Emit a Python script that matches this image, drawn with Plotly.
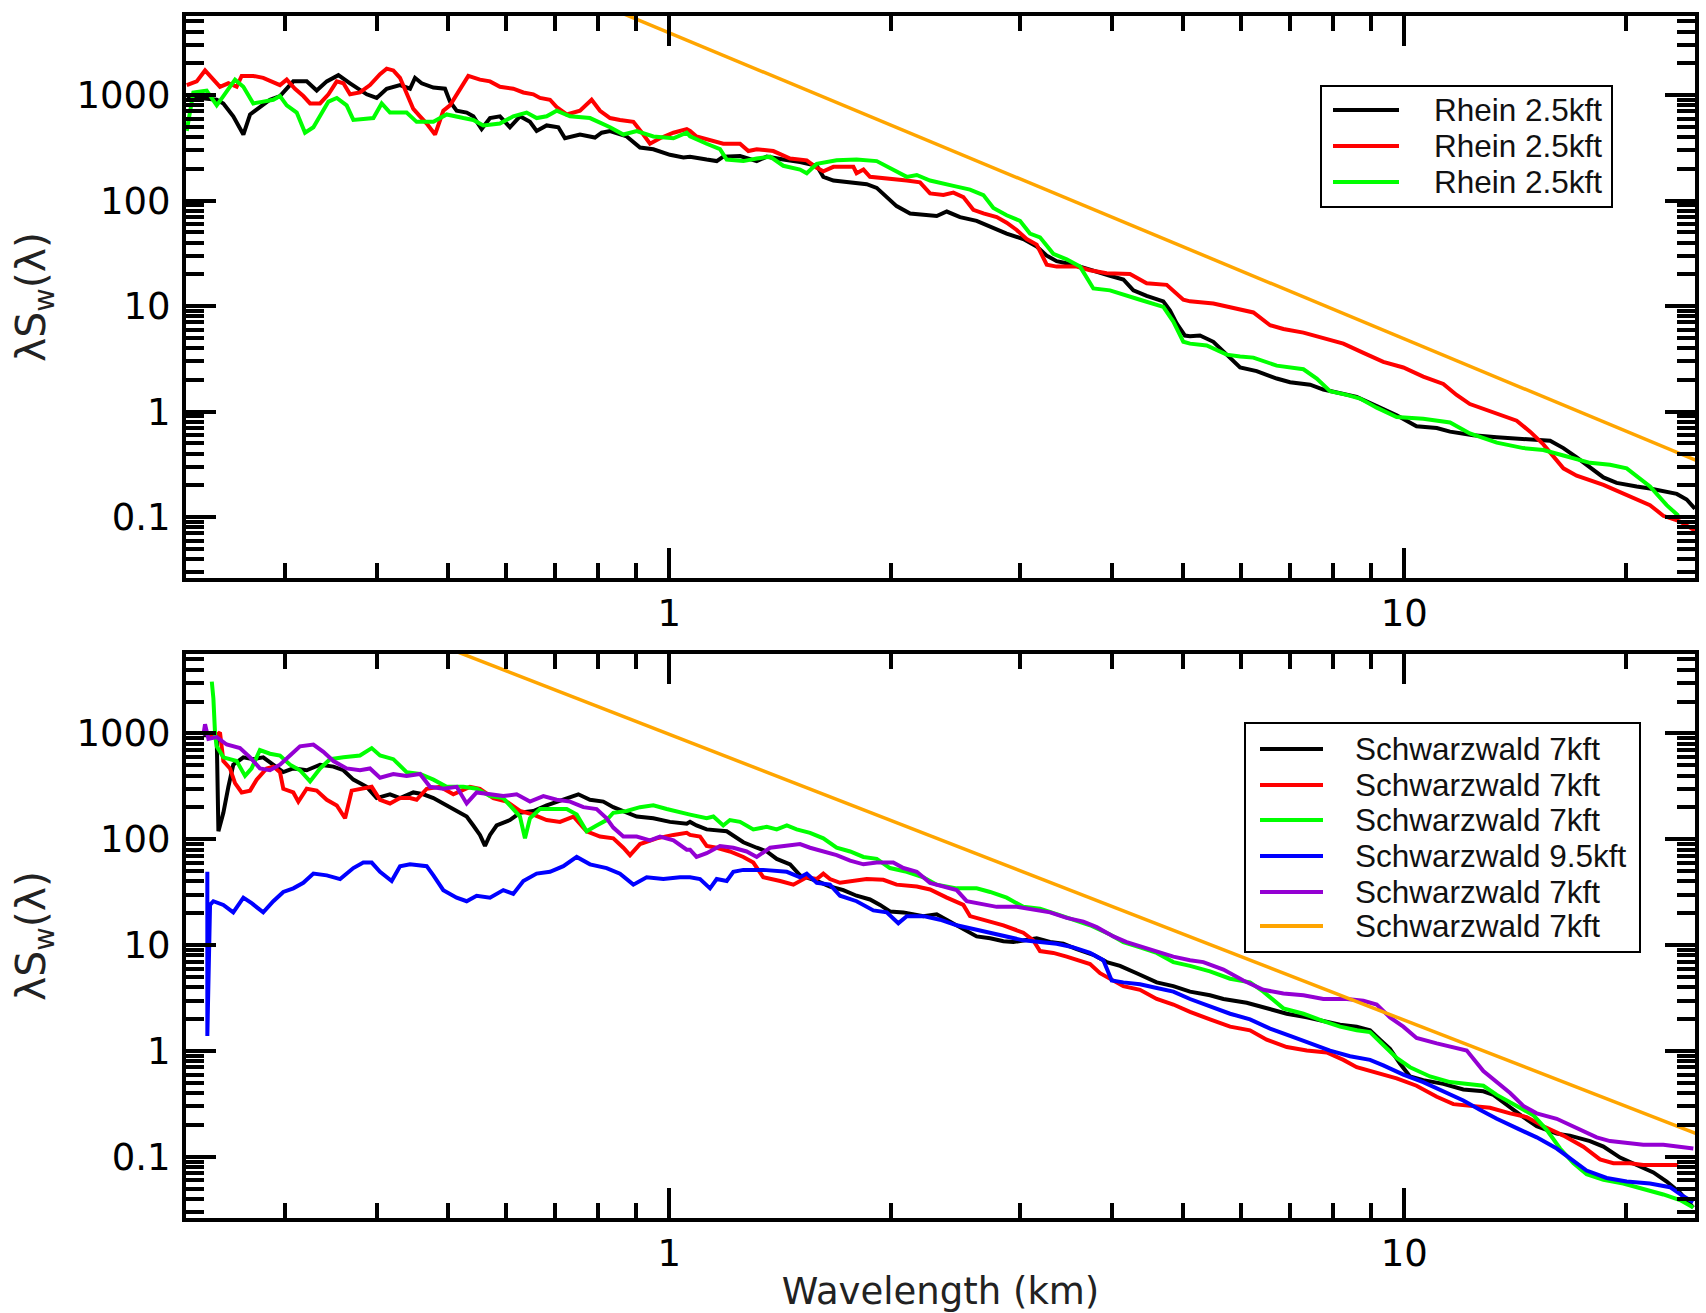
import plotly.graph_objects as go

# ---------------------------------------------------------------------------
# Vertical-velocity spectra  lambda * S_w(lambda)  versus wavelength (km)
# ---------------------------------------------------------------------------

RHEIN_NAMES = ["Rhein 2.5kft", "Rhein 2.5kft", "Rhein 2.5kft"]
SCHWARZ_NAMES = ["Schwarzwald 7kft", "Schwarzwald 7kft", "Schwarzwald 7kft",
                 "Schwarzwald 9.5kft", "Schwarzwald 7kft", "Schwarzwald 7kft"]

# --- Rhein, leg 1 (black)
rhein1_x = [0.2205, 0.2298, 0.2422, 0.2473, 0.2551, 0.2633, 0.2689, 0.2773, 0.2862, 0.2953,
            0.3079, 0.3211, 0.3313, 0.3419, 0.3546, 0.3678, 0.3875, 0.3998, 0.4125, 0.4301,
            0.4438, 0.4508, 0.4603, 0.4775, 0.4952, 0.5030, 0.5136, 0.5300, 0.5411, 0.5554,
            0.5702, 0.5882, 0.6069, 0.6263, 0.6462, 0.6599, 0.6809, 0.7063, 0.7211, 0.7559,
            0.7921, 0.8090, 0.8305, 0.8750, 0.9122, 0.9511, 1.002, 1.045,
            1.067, 1.124, 1.160, 1.184, 1.248, 1.315, 1.357, 1.429, 1.506, 1.587,
            1.620, 1.672, 1.743, 1.856, 1.915, 1.976, 2.038, 2.126, 2.216, 2.311,
            2.385, 2.486, 2.619, 2.732, 2.877, 3.031, 3.161, 3.262, 3.365, 3.546,
            3.736, 3.977, 4.147, 4.279, 4.461, 4.700, 4.800, 4.900, 5.030,
            5.110, 5.272, 5.498, 5.733, 5.978, 6.297, 6.705, 6.991, 7.444, 7.760,
            8.176, 8.614, 9.172, 9.763, 10.39, 11.07, 11.54, 12.41, 13.36, 14.52,
            15.79, 16.46, 17.16, 18.66, 19.45, 20.71, 21.59, 23.48, 24.22, 24.86]
rhein1_y = [950, 940, 904, 834, 630, 423, 656, 770, 904, 980,
            1350, 1350, 1104, 1350, 1545, 1295, 1018, 940, 1150, 1245,
            1150, 1459, 1295, 1180, 1150, 868, 711, 683, 630, 477,
            606, 630, 496, 630, 558, 457, 516, 496, 390, 423,
            396, 440, 457, 406, 319, 307, 272, 257,
            261, 245, 237, 261, 265, 237, 261, 245, 232, 214,
            168, 155, 149, 143, 132, 108, 88.7, 75.6, 73.8, 71.4,
            78.8, 69.8, 64.4, 57.2, 48.7, 43.2, 36.8, 30.1, 26.7, 24.7,
            21.9, 19.4, 17.9, 14.1, 12.5, 11.1, 9.06, 6.85, 5.26,
            5.18, 5.26, 4.59, 3.47, 2.62, 2.42, 2.06, 1.90, 1.80, 1.62,
            1.50, 1.38, 1.13, 0.925, 0.727, 0.70, 0.646, 0.596, 0.573, 0.55,
            0.529, 0.451, 0.369, 0.238, 0.211, 0.195, 0.187, 0.166, 0.147, 0.120]

# --- Rhein, leg 2 (red)
rhein2_x = [0.2205, 0.2275, 0.2335, 0.2397, 0.2447, 0.2512, 0.2578, 0.2619, 0.2716, 0.2802,
            0.2877, 0.2953, 0.3016, 0.3095, 0.3177, 0.3245, 0.3348, 0.3437, 0.3528, 0.3602,
            0.3678, 0.3794, 0.3915, 0.4040, 0.4125, 0.4212, 0.4301, 0.4391, 0.4484, 0.4579,
            0.4676, 0.4800, 0.4926, 0.5030, 0.5136, 0.5245, 0.5327, 0.5525, 0.5702, 0.5882,
            0.6133, 0.6329, 0.6531, 0.6668, 0.6881, 0.7026, 0.7250, 0.7559, 0.7839, 0.8048,
            0.8305, 0.8568, 0.8934, 0.9218, 0.9412, 0.9712, 1.013, 1.056,
            1.067, 1.089, 1.136, 1.184, 1.248, 1.281, 1.315, 1.385, 1.460, 1.538,
            1.587, 1.620, 1.672, 1.780, 1.798, 1.837, 1.875, 1.996, 2.104, 2.193,
            2.263, 2.360, 2.435, 2.512, 2.592, 2.675, 2.789, 2.877, 2.969, 3.063,
            3.161, 3.262, 3.365, 3.583, 3.736, 3.936, 4.234, 4.461, 4.750, 5.004,
            5.110, 5.498, 5.794, 6.232, 6.567, 6.847, 7.290, 7.760, 8.262, 8.797,
            9.363, 9.968, 10.61, 11.30, 11.78, 12.28, 13.08, 14.22, 14.83, 15.46,
            16.46, 17.16, 18.66, 19.86, 21.59, 22.51, 23.72, 24.86]
rhein2_y = [1245, 1350, 1714, 1403, 1200, 1295, 1200, 1520, 1520, 1459,
            1350, 1245, 1403, 1150, 980, 834, 834, 1018, 1350, 1295,
            1018, 1060, 1245, 1582, 1782, 1714, 1459, 1060, 740, 630,
            537, 423, 711, 800, 1018, 1295, 1520, 1403, 1350, 1200,
            1150, 1060, 1018, 940, 904, 770, 656, 711, 904, 711,
            606, 582, 558, 423, 346, 390, 440, 477,
            457, 406, 375, 346, 346, 295, 307, 295, 251, 241,
            205, 190, 209, 209, 182, 197, 168, 162, 155, 149,
            117, 113, 119, 108, 81.8, 75.6, 69.8, 61.8, 52.7, 43.2,
            38.3, 24.7, 23.7, 23.7, 21.9, 20.5, 20.2, 16.5, 15.9, 11.5,
            11.1, 10.6, 9.82, 8.71, 6.58, 6.07, 5.61, 4.97, 4.41, 3.61,
            2.96, 2.62, 2.15, 1.83, 1.44, 1.18, 1.0, 0.82, 0.646, 0.489,
            0.290, 0.247, 0.202, 0.166, 0.130, 0.103, 0.091, 0.0745]

# --- Rhein, leg 3 (green)
rhein3_x = [0.2205, 0.2251, 0.2347, 0.2422, 0.2473, 0.2565, 0.2633, 0.2716, 0.2802, 0.2892,
            0.2953, 0.3016, 0.3112, 0.3194, 0.3279, 0.3348, 0.3437, 0.3528, 0.3639, 0.3716,
            0.3875, 0.3957, 0.4061, 0.4168, 0.4391, 0.4531, 0.4775, 0.4978, 0.5245, 0.5411,
            0.5583, 0.5882, 0.6133, 0.6395, 0.6599, 0.6809, 0.7026, 0.7327, 0.7799, 0.8305,
            0.8658, 0.9028, 0.9511, 1.013, 1.056,
            1.067, 1.124, 1.172, 1.197, 1.261, 1.315, 1.371, 1.429, 1.506, 1.538,
            1.587, 1.689, 1.798, 1.915, 1.996, 2.104, 2.171, 2.263, 2.435, 2.565,
            2.675, 2.760, 2.877, 3.000, 3.095, 3.194, 3.330, 3.472, 3.621, 3.775,
            3.977, 4.147, 4.369, 4.700, 4.850, 5.004,
            5.110, 5.384, 5.733, 5.978, 6.232, 6.705, 7.290, 7.601, 7.924, 8.349,
            8.705, 9.172, 9.763, 10.61, 11.54, 12.28, 13.36, 14.52, 15.46, 16.46,
            17.89, 19.05, 20.07, 21.59, 22.75, 23.60]
rhein3_y = [457, 1060, 1104, 800, 980, 1403, 1200, 834, 868, 904,
            980, 800, 683, 440, 496, 630, 868, 940, 800, 582,
            606, 606, 834, 683, 683, 558, 558, 656, 606, 582,
            516, 537, 630, 683, 606, 630, 711, 630, 606, 496,
            423, 457, 406, 390, 440,
            406, 346, 307, 245, 237, 251, 261, 214, 197, 182,
            223, 241, 245, 237, 205, 168, 175, 155, 138, 127,
            113, 85.1, 72.6, 64.4, 48.7, 44.9, 31.3, 27.8, 23.7, 14.7,
            14.1, 13.0, 11.5, 9.82, 7.13, 4.59,
            4.41, 4.24, 3.47, 3.33, 3.25, 2.73, 2.52, 2.06, 1.56, 1.44,
            1.33, 1.09, 0.889, 0.855, 0.788, 0.621, 0.508, 0.451, 0.433, 0.384,
            0.327, 0.314, 0.290, 0.195, 0.130, 0.103]

# --- reference power law, upper panel (orange)
ref_top_x = [0.8, 25.0]
ref_top_y = [7430, 0.343]

# --- Schwarzwald, leg 1 (black)
schwarz1_x = [0.2323, 0.2422, 0.2435, 0.2473, 0.2512, 0.2551, 0.2633, 0.2716, 0.2802, 0.2892,
              0.2984, 0.3079, 0.3211, 0.3348, 0.3491, 0.3602, 0.3716, 0.3875, 0.3998, 0.4168,
              0.4301, 0.4484, 0.4627, 0.4775, 0.4978, 0.5136, 0.5300, 0.5411, 0.5525, 0.5613,
              0.5702, 0.5821, 0.6069, 0.6263, 0.6531, 0.6809, 0.7026, 0.7250, 0.7520, 0.7799,
              0.8131, 0.8390, 0.8658, 0.9028, 0.9511, 1.002, 1.056,
              1.067, 1.089, 1.124, 1.197, 1.261, 1.315, 1.357, 1.400, 1.460, 1.506,
              1.587, 1.654, 1.725, 1.798, 1.875, 1.935, 1.996, 2.082, 2.216, 2.311,
              2.410, 2.512, 2.619, 2.732, 2.848, 2.938, 3.031, 3.161, 3.296, 3.436,
              3.583, 3.775, 3.936, 4.104, 4.324, 4.604, 4.850,
              5.110, 5.440, 5.674, 6.103, 6.498, 6.919, 7.367, 7.760, 8.176, 8.614,
              8.982, 9.267, 9.561, 9.865, 10.18, 10.61, 11.30, 12.03, 12.81, 13.22,
              13.93, 14.52, 15.14, 16.12, 16.80, 17.89, 18.66, 19.66, 20.71, 21.82,
              22.75, 23.72, 24.73]
schwarz1_y = [962, 962, 119, 178, 313, 506, 594, 571, 594, 506,
              431, 467, 449, 506, 486, 449, 366, 313, 245, 266,
              245, 277, 266, 245, 209, 185, 164, 135, 110, 86.5,
              110, 135, 152, 178, 185, 209, 227, 245, 266, 236,
              227, 201, 185, 164, 158, 146, 140,
              146, 135, 124, 119, 93.8, 83.2, 76.7, 65.3, 58.0, 45.6,
              40.4, 35.8, 33.1, 29.3, 27.0, 24.0, 20.8, 20.4, 18.8, 19.6,
              16.7, 14.2, 12.1, 11.6, 10.9, 10.7, 11.1, 11.6, 10.7, 10.3,
              9.16, 8.12, 6.92, 6.38, 5.43, 4.45, 4.10,
              3.64, 3.36, 3.10, 2.86, 2.53, 2.25, 2.08, 1.92, 1.77, 1.70,
              1.57, 1.28, 1.05, 0.762, 0.575, 0.531, 0.490, 0.434, 0.417, 0.385,
              0.291, 0.238, 0.195, 0.166, 0.159, 0.141, 0.125, 0.0985, 0.0838, 0.0714,
              0.0585, 0.0459, 0.0333]

# --- Schwarzwald, leg 2 (red)
schwarz2_x = [0.2347, 0.2422, 0.2447, 0.2473, 0.2525, 0.2565, 0.2619, 0.2689, 0.2745, 0.2832,
              0.2892, 0.2953, 0.2984, 0.3079, 0.3128, 0.3211, 0.3313, 0.3419, 0.3528, 0.3621,
              0.3697, 0.3834, 0.3936, 0.4040, 0.4168, 0.4301, 0.4438, 0.4531, 0.4676, 0.4875,
              0.5083, 0.5355, 0.5525, 0.5761, 0.6007, 0.6263, 0.6531, 0.6809, 0.7100, 0.7404,
              0.7717, 0.8048, 0.8390, 0.8658, 0.8841, 0.9122, 0.9612, 1.013, 1.056,
              1.067, 1.101, 1.124, 1.160, 1.209, 1.261, 1.301, 1.342, 1.415, 1.475,
              1.538, 1.587, 1.620, 1.654, 1.707, 1.780, 1.856, 1.955, 2.038, 2.171,
              2.263, 2.385, 2.512, 2.565, 2.675, 2.848, 3.031, 3.128, 3.194, 3.330,
              3.472, 3.621, 3.736, 3.855, 4.019, 4.147, 4.369, 4.604, 4.850,
              5.110, 5.440, 5.794, 6.167, 6.498, 6.919, 7.367, 7.842, 8.262, 8.614,
              9.172, 9.763, 10.39, 11.07, 11.66, 12.41, 13.08, 13.93, 14.67, 15.46,
              16.46, 17.52, 18.46, 19.25, 20.28, 21.14, 22.51, 23.60]
schwarz2_y = [962, 962, 1023, 548, 467, 339, 277, 288, 366, 467,
              486, 431, 300, 277, 227, 300, 288, 236, 209, 158,
              288, 300, 313, 236, 218, 245, 245, 236, 300, 313,
              266, 313, 300, 245, 227, 185, 171, 152, 146, 164,
              119, 106, 102, 83.2, 70.8, 90.1, 102, 110, 115,
              110, 106, 86.5, 83.2, 76.7, 68.1, 60.3, 43.8, 40.4, 37.3,
              43.8, 42.1, 47.4, 42.1, 38.8, 40.4, 42.1, 41.4, 37.3, 35.8,
              33.6, 28.1, 24.0, 18.8, 17.4, 15.4, 13.1, 11.1, 8.79, 8.45,
              7.80, 7.20, 6.64, 5.43, 4.63, 4.10, 3.79, 3.10, 2.75,
              2.34, 1.99, 1.70, 1.57, 1.28, 1.09, 1.01, 0.969, 0.825, 0.703,
              0.623, 0.552, 0.470, 0.370, 0.315, 0.303, 0.291, 0.258, 0.238, 0.195,
              0.159, 0.125, 0.0946, 0.0873, 0.0873, 0.0838, 0.0838, 0.0838]

# --- Schwarzwald, leg 3 (green)
schwarz3_x = [0.2385, 0.2397, 0.2410, 0.2422, 0.2473, 0.2578, 0.2647, 0.2702, 0.2773, 0.2862,
              0.2953, 0.3047, 0.3144, 0.3245, 0.3348, 0.3455, 0.3602, 0.3794, 0.3936, 0.4040,
              0.4212, 0.4391, 0.4579, 0.4775, 0.4978, 0.5245, 0.5468, 0.5702, 0.5944, 0.6133,
              0.6263, 0.6362, 0.6462, 0.6668, 0.6953, 0.7250, 0.7481, 0.7717, 0.7963, 0.8217,
              0.8390, 0.8750, 0.9122, 0.9511, 0.9917, 1.034,
              1.067, 1.124, 1.148, 1.184, 1.209, 1.248, 1.301, 1.357, 1.400, 1.445,
              1.490, 1.554, 1.620, 1.689, 1.762, 1.837, 1.915, 1.996, 2.104, 2.216,
              2.311, 2.460, 2.619, 2.732, 2.877, 3.031, 3.194, 3.365, 3.546, 3.736,
              3.977, 4.147, 4.369, 4.604, 4.850,
              5.110, 5.440, 5.794, 6.167, 6.430, 6.847, 7.290, 7.760, 8.176, 8.614,
              8.982, 9.363, 9.763, 10.18, 10.84, 11.54, 12.28, 12.81, 13.36, 14.22,
              14.98, 15.62, 16.29, 16.98, 17.70, 18.66, 19.86, 21.14, 22.51, 23.72,
              24.73]
schwarz3_y = [3080, 2140, 962, 755, 594, 548, 397, 467, 697, 643,
              618, 506, 449, 352, 467, 571, 594, 618, 726, 618,
              571, 431, 414, 366, 313, 313, 300, 256, 245, 193,
              164, 102, 158, 193, 193, 193, 171, 119, 135, 152,
              178, 185, 201, 209, 193, 178,
              171, 158, 164, 135, 152, 146, 124, 131, 124, 135,
              124, 115, 102, 83.2, 76.7, 68.1, 65.3, 53.5, 49.3, 43.8,
              37.3, 34.4, 34.4, 31.8, 28.1, 23.0, 22.1, 19.6, 17.4, 15.4,
              12.6, 10.7, 9.53, 8.45, 6.92,
              6.38, 5.66, 4.82, 4.45, 3.64, 2.53, 2.25, 1.92, 1.70, 1.57,
              1.51, 1.14, 0.859, 0.703, 0.575, 0.509, 0.490, 0.470, 0.385, 0.303,
              0.248, 0.180, 0.120, 0.0873, 0.0686, 0.0608, 0.0561, 0.0498, 0.0442, 0.0391,
              0.0333]

# --- Schwarzwald, 9.5 kft leg (blue)
schwarz4_x = [0.2352, 0.2352, 0.2372, 0.2397, 0.2473, 0.2551, 0.2633, 0.2702, 0.2802, 0.2892,
              0.2984, 0.3079, 0.3177, 0.3279, 0.3419, 0.3565, 0.3716, 0.3834, 0.3936, 0.4040,
              0.4190, 0.4301, 0.4438, 0.4676, 0.4775, 0.4926, 0.5136, 0.5300, 0.5468, 0.5702,
              0.5944, 0.6133, 0.6329, 0.6599, 0.6881, 0.7175, 0.7481, 0.7799, 0.8217, 0.8568,
              0.8934, 0.9315, 0.9813, 1.034,
              1.067, 1.101, 1.136, 1.160, 1.197, 1.222, 1.261, 1.342, 1.445, 1.506,
              1.538, 1.587, 1.654, 1.707, 1.798, 1.895, 1.976, 2.049, 2.104, 2.216,
              2.335, 2.460, 2.592, 2.732, 2.877, 3.031, 3.194, 3.365, 3.546, 3.736,
              3.895, 3.998, 4.147, 4.369, 4.604, 4.850,
              5.110, 5.440, 5.794, 6.167, 6.567, 6.991, 7.444, 7.924, 8.436, 8.982,
              9.363, 9.968, 10.61, 11.30, 12.03, 12.67, 13.36, 14.22, 15.14, 16.12,
              16.98, 17.70, 18.85, 20.07, 21.59, 22.99, 23.97, 24.73]
schwarz4_y = [49.3, 1.39, 24.0, 26.0, 24.0, 20.4, 28.1, 24.9, 20.4, 26.0,
              31.8, 34.4, 38.8, 47.4, 45.6, 42.1, 53.5, 60.3, 60.3, 49.3,
              40.4, 55.7, 58.0, 55.7, 45.6, 33.1, 28.1, 26.0, 29.3, 28.1,
              33.1, 30.5, 40.4, 47.4, 49.3, 55.7, 68.1, 58.0, 53.5, 47.4,
              37.3, 43.8, 42.1, 43.8,
              43.8, 42.1, 34.4, 42.1, 40.4, 49.3, 51.4, 51.4, 49.3, 43.8,
              47.4, 38.8, 37.3, 29.3, 26.0, 21.3, 20.4, 16.1, 18.8, 18.8,
              17.4, 15.4, 14.2, 13.1, 12.1, 11.1, 10.7, 10.3, 9.53, 8.45,
              7.20, 4.63, 4.45, 4.27, 3.94, 3.64,
              3.10, 2.64, 2.25, 1.99, 1.63, 1.39, 1.18, 1.01, 0.893, 0.825,
              0.732, 0.598, 0.509, 0.417, 0.341, 0.279, 0.229, 0.187, 0.153, 0.120,
              0.0908, 0.0743, 0.0633, 0.0585, 0.0561, 0.0518, 0.0424, 0.0376]

# --- Schwarzwald, leg 5 (purple)
schwarz5_x = [0.2323, 0.2335, 0.2360, 0.2422, 0.2499, 0.2605, 0.2689, 0.2773, 0.2862, 0.2953,
              0.3047, 0.3144, 0.3279, 0.3383, 0.3491, 0.3639, 0.3794, 0.3915, 0.4040, 0.4212,
              0.4391, 0.4579, 0.4725, 0.4926, 0.5136, 0.5300, 0.5468, 0.5702, 0.5944, 0.6198,
              0.6462, 0.6739, 0.7026, 0.7327, 0.7638, 0.7963, 0.8217, 0.8390, 0.8658, 0.9028,
              0.9412, 0.9712, 1.013, 1.056,
              1.067, 1.089, 1.124, 1.172, 1.222, 1.274, 1.315, 1.371, 1.445, 1.506,
              1.554, 1.620, 1.689, 1.762, 1.837, 1.915, 2.017, 2.082, 2.171, 2.263,
              2.360, 2.460, 2.539, 2.675, 2.789, 2.969, 3.095, 3.296, 3.472, 3.659,
              3.815, 4.019, 4.191, 4.415, 4.604, 4.850,
              5.110, 5.328, 5.674, 6.039, 6.430, 6.847, 7.290, 7.760, 8.349, 8.797,
              9.172, 9.561, 9.968, 10.39, 11.07, 11.66, 12.16, 12.81, 13.36, 13.93,
              14.52, 15.14, 16.12, 17.16, 18.27, 19.05, 19.86, 21.14, 22.51, 23.48,
              24.73]
schwarz5_y = [962, 1220, 887, 922, 785, 726, 594, 467, 449, 506,
              618, 755, 785, 670, 548, 467, 449, 467, 382, 414,
              397, 414, 313, 300, 313, 218, 277, 266, 256, 266,
              227, 256, 236, 227, 201, 193, 158, 129, 106, 106,
              97.6, 106, 97.6, 79.8,
              79.8, 68.1, 73.8, 86.5, 83.2, 76.7, 68.1, 83.2, 86.5, 90.1,
              83.2, 76.7, 70.8, 62.8, 58.0, 60.3, 60.3, 53.5, 49.3, 38.8,
              35.8, 33.1, 26.0, 24.0, 23.0, 23.0, 22.1, 20.4, 18.1, 16.7,
              14.8, 12.1, 10.7, 9.53, 8.79, 7.80,
              7.20, 6.92, 5.89, 4.63, 3.79, 3.50, 3.36, 3.10, 3.10, 2.98,
              2.75, 2.08, 1.70, 1.33, 1.18, 1.09, 1.01, 0.648, 0.509, 0.401,
              0.303, 0.258, 0.229, 0.187, 0.153, 0.141, 0.136, 0.130, 0.130, 0.125,
              0.120]

# --- reference power law, lower panel (orange)
ref_bot_x = [0.45, 25.0]
ref_bot_y = [8460, 0.165]

# --- axis ticks
X_TICKS = [1, 10]
X_TICK_TEXT = ["1", "10"]
Y_TICKS = [0.1, 1, 10, 100, 1000]
Y_TICK_TEXT = ["0.1", "1", "10", "100", "1000"]
MINOR_MULT = [2, 3, 4, 5, 6, 7, 8, 9]
X_DECADES = [0.1, 1, 10]
Y_DECADES = [0.01, 0.1, 1, 10, 100, 1000]

# ---------------------------------------------------------------------------
# layout geometry (pixels)
# ---------------------------------------------------------------------------
FIG_W, FIG_H = 1706, 1313
PLOT_L, PLOT_R = 186, 1695
TOP_T, TOP_B = 16, 578
BOT_T, BOT_B = 654, 1218
X_RANGE = [-0.6576, 1.3955]
Y_RANGE = [-1.577, 3.750]

BLACK, RED, GREEN = "#000000", "#ff0000", "#00ff00"
BLUE, PURPLE, ORANGE = "#0000ff", "#9400d3", "#ffa500"
TICK_FONT = "DejaVu Sans"
KEY_FONT = "Liberation Sans"
LINE_W = 4
REF_W = 3.5


def px(x):
    return (x - PLOT_L) / (PLOT_R - PLOT_L)


def py(y):
    return (BOT_B - y) / (BOT_B - TOP_T)


def minor_vals(decades):
    return [m * d for d in decades for m in MINOR_MULT]


def axis(kind, **extra):
    minor_len = 15 if kind == "x" else 18
    base = dict(
        type="log", automargin=False,
        showline=True, linewidth=4, linecolor="black",
        mirror="allticks", ticks="inside", ticklen=30, tickwidth=3.5,
        tickcolor="black", showgrid=False, zeroline=False,
        tickfont=dict(family=TICK_FONT, size=37, color="black"),
        minor=dict(ticks="inside", ticklen=minor_len, tickwidth=3.5,
                   tickcolor="black", tickmode="array", showgrid=False,
                   tickvals=minor_vals(X_DECADES if kind == "x" else Y_DECADES)),
        tickmode="array",
    )
    if kind == "x":
        base.update(range=X_RANGE, tickvals=X_TICKS, ticktext=X_TICK_TEXT,
                    ticklabelstandoff=0)
    else:
        base.update(range=Y_RANGE, tickvals=Y_TICKS, ticktext=Y_TICK_TEXT,
                    ticklabelstandoff=4)
    base.update(extra)
    return base


fig = go.Figure()

top_series = [(rhein1_x, rhein1_y, BLACK), (rhein2_x, rhein2_y, RED),
              (rhein3_x, rhein3_y, GREEN)]
for (xs, ys, col), name in zip(top_series, RHEIN_NAMES):
    fig.add_trace(go.Scatter(x=xs, y=ys, mode="lines", name=name,
                             line=dict(color=col, width=LINE_W),
                             xaxis="x", yaxis="y", showlegend=False))
fig.add_trace(go.Scatter(x=ref_top_x, y=ref_top_y, mode="lines",
                         line=dict(color=ORANGE, width=REF_W),
                         xaxis="x", yaxis="y", showlegend=False))

bot_series = [(schwarz1_x, schwarz1_y, BLACK), (schwarz2_x, schwarz2_y, RED),
              (schwarz3_x, schwarz3_y, GREEN), (schwarz4_x, schwarz4_y, BLUE),
              (schwarz5_x, schwarz5_y, PURPLE)]
for (xs, ys, col), name in zip(bot_series, SCHWARZ_NAMES):
    fig.add_trace(go.Scatter(x=xs, y=ys, mode="lines", name=name,
                             line=dict(color=col, width=LINE_W),
                             xaxis="x2", yaxis="y2", showlegend=False))
fig.add_trace(go.Scatter(x=ref_bot_x, y=ref_bot_y, mode="lines",
                         name=SCHWARZ_NAMES[5],
                         line=dict(color=ORANGE, width=REF_W),
                         xaxis="x2", yaxis="y2", showlegend=False))

Y_TITLE = dict(text="λS<sub>w</sub>(λ)",
               font=dict(family=TICK_FONT, size=41, color="#222222"),
               standoff=19)

fig.update_layout(
    width=FIG_W, height=FIG_H,
    margin=dict(l=PLOT_L, r=FIG_W - PLOT_R, t=TOP_T, b=FIG_H - BOT_B,
                autoexpand=False),
    paper_bgcolor="white", plot_bgcolor="white",
    xaxis=axis("x", anchor="y", domain=[0, 1]),
    yaxis=axis("y", anchor="x", domain=[py(TOP_B), 1.0], title=Y_TITLE),
    xaxis2=axis("x", anchor="y2", domain=[0, 1],
                title=dict(text="Wavelength (km)",
                           font=dict(family=TICK_FONT, size=37, color="#222222"),
                           standoff=8)),
    yaxis2=axis("y", anchor="x2", domain=[0.0, py(BOT_T)], title=Y_TITLE),
    showlegend=False,
)


def add_key(names, colors, box, rows, line_x, text_x):
    x0, y0, x1, y1 = box
    fig.add_shape(type="rect", xref="paper", yref="paper",
                  x0=px(x0), x1=px(x1), y0=py(y1), y1=py(y0),
                  line=dict(color="black", width=2), fillcolor="white",
                  layer="above")
    for name, col, ry in zip(names, colors, rows):
        fig.add_shape(type="line", xref="paper", yref="paper",
                      x0=px(line_x[0]), x1=px(line_x[1]), y0=py(ry), y1=py(ry),
                      line=dict(color=col, width=4), layer="above")
        fig.add_annotation(xref="paper", yref="paper", x=px(text_x), y=py(ry),
                           text=name, showarrow=False, xanchor="left",
                           yanchor="middle",
                           font=dict(family=KEY_FONT, size=31.5, color="#111111"))


add_key(RHEIN_NAMES, [BLACK, RED, GREEN],
        box=(1321, 86, 1612, 207), rows=[110, 146, 182],
        line_x=(1333, 1399), text_x=1432)
add_key(SCHWARZ_NAMES, [BLACK, RED, GREEN, BLUE, PURPLE, ORANGE],
        box=(1245, 723, 1640, 952), rows=[749, 785, 820, 856, 892, 926],
        line_x=(1260, 1323), text_x=1353)

fig.write_html("out.html")
